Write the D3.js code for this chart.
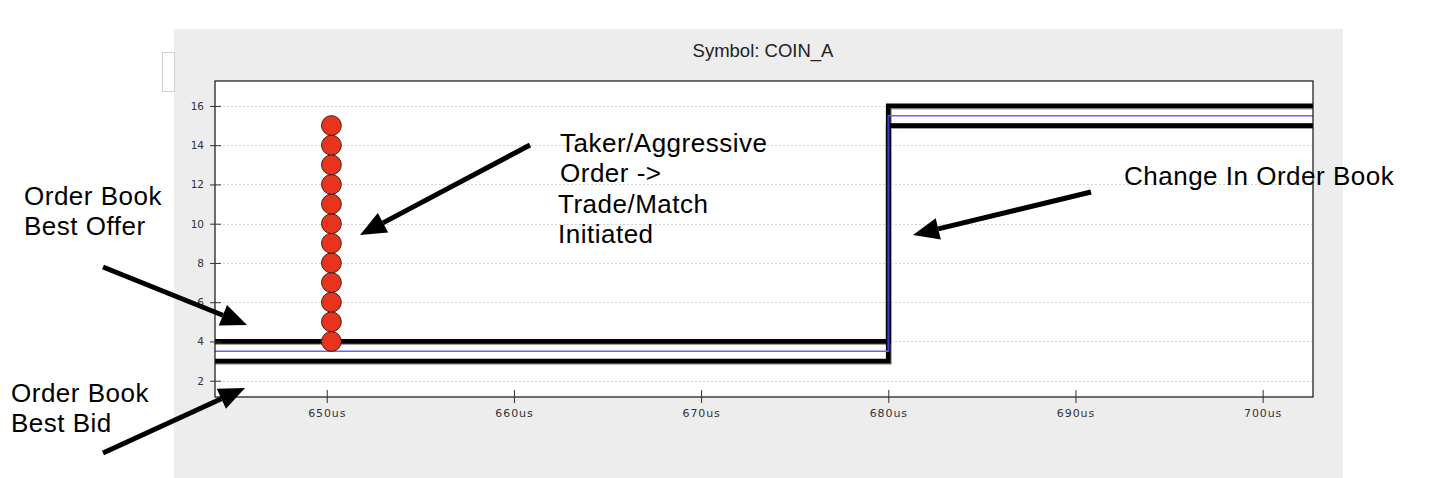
<!DOCTYPE html>
<html>
<head>
<meta charset="utf-8">
<script src="https://cdn.jsdelivr.net/npm/d3@7"></script>
<style>
  html, body { margin: 0; padding: 0; background: #ffffff; }
  svg { display: block; }
</style>
</head>
<body>
<svg id="chart" width="1432" height="478"></svg>
<script>
// ---- data ----
const chartTitle = "Symbol: COIN_A";
const bookTimes = [640, 680, 710];          // microseconds
const bestOffer = [4, 16, 16];
const bestBid = [3, 15, 15];
const midPrice = [3.5, 15.5, 15.5];
const tradeTime = 650.25;
const tradePrices = [4, 5, 6, 7, 8, 9, 10, 11, 12, 13, 14, 15];
const xTicks = [650, 660, 670, 680, 690, 700];
const yTicks = [2, 4, 6, 8, 10, 12, 14, 16];
const xDomain = [644.03, 702.69];
const yDomain = [1.17, 17.27];

const annotations = [
  { lines: ["Order Book", "Best Offer"], x: 24, y: 205, from: [103, 267], to: [247, 325] },
  { lines: ["Order Book", "Best Bid"], x: 11, y: 402, from: [103, 453], to: [245, 388] },
  { lines: ["Taker/Aggressive", "Order ->"], x: 560, y: 152, from: [530, 145], to: [360, 235] },
  { lines: ["Trade/Match", "Initiated"], x: 558, y: 213 },
  { lines: ["Change In Order Book"], x: 1124, y: 185, from: [1091, 192], to: [913, 235] }
];

// ---- layout ----
const svg = d3.select("#chart");
const plot = { left: 215, top: 81, right: 1313, bottom: 397 };

svg.append("rect").attr("x", 174).attr("y", 29).attr("width", 1169).attr("height", 449)
  .attr("fill", "#ededed");
svg.append("rect").attr("x", 162.5).attr("y", 52.5).attr("width", 12).attr("height", 39)
  .attr("fill", "#ffffff").attr("stroke", "#d0d0d0").attr("stroke-width", 1);

svg.append("text").attr("x", 763).attr("y", 57).attr("text-anchor", "middle")
  .attr("font-family", "Liberation Sans, Arial, sans-serif").attr("font-size", 18.5)
  .attr("fill", "#222").text(chartTitle);

const x = d3.scaleLinear().domain(xDomain).range([plot.left, plot.right]);
const y = d3.scaleLinear().domain(yDomain).range([plot.bottom, plot.top]);

svg.append("rect").attr("x", plot.left).attr("y", plot.top)
  .attr("width", plot.right - plot.left).attr("height", plot.bottom - plot.top)
  .attr("fill", "#ffffff");

svg.append("defs").append("clipPath").attr("id", "clip").append("rect")
  .attr("x", plot.left).attr("y", plot.top)
  .attr("width", plot.right - plot.left).attr("height", plot.bottom - plot.top);

// grid
svg.append("g").selectAll("line").data(yTicks).join("line")
  .attr("x1", plot.left).attr("x2", plot.right)
  .attr("y1", d => Math.round(y(d)) + 0.5).attr("y2", d => Math.round(y(d)) + 0.5)
  .attr("stroke", "#d2d2d2").attr("stroke-dasharray", "2,2").attr("stroke-width", 1);

// series
const g = svg.append("g").attr("clip-path", "url(#clip)");
const line = d3.line().x(d => x(d[0])).y(d => y(d[1])).curve(d3.curveStepAfter);
const offerPts = bookTimes.map((t, i) => [t, bestOffer[i]]);
const bidPts = bookTimes.map((t, i) => [t, bestBid[i]]);
const midPts = bookTimes.map((t, i) => [t, midPrice[i]]);

[offerPts, bidPts].forEach(pts => {
  g.append("path").attr("d", line(pts)).attr("fill", "none")
    .attr("stroke", "#a0a0a0").attr("stroke-width", 5.5).attr("transform", "translate(0.8,0.8)");
});
[offerPts, bidPts].forEach(pts => {
  g.append("path").attr("d", line(pts)).attr("fill", "none")
    .attr("stroke", "#000").attr("stroke-width", 4.8);
});
g.append("path").attr("d", line(midPts)).attr("fill", "none")
  .attr("stroke", "#6464ff").attr("stroke-width", 1.4);
g.append("line").attr("x1", x(bookTimes[1]) + 1).attr("x2", x(bookTimes[1]) + 1)
  .attr("y1", y(midPrice[0])).attr("y2", y(midPrice[1]))
  .attr("stroke", "#1010b0").attr("stroke-width", 1.5);

g.selectAll("circle.trade").data(tradePrices).join("circle")
  .attr("class", "trade")
  .attr("cx", x(tradeTime)).attr("cy", d => y(d)).attr("r", 9.9)
  .attr("fill", "#e8341c").attr("stroke", "#4a1a10").attr("stroke-width", 1);

// frame
svg.append("rect").attr("x", plot.left).attr("y", plot.top)
  .attr("width", plot.right - plot.left).attr("height", plot.bottom - plot.top)
  .attr("fill", "none").attr("stroke", "#111").attr("stroke-width", 1.2);

// axes
const xAxis = d3.axisBottom(x).tickValues(xTicks).tickFormat(d => d + "us")
  .tickSizeInner(6).tickSizeOuter(0).tickPadding(8);
const xg = svg.append("g").attr("transform", `translate(0,${plot.bottom})`).call(xAxis);
xg.select(".domain").remove();
xg.selectAll(".tick line").attr("y1", -7).attr("y2", 6).attr("stroke", "#333");
xg.selectAll(".tick text").attr("font-family", "DejaVu Sans, sans-serif").attr("font-size", 11)
  .attr("letter-spacing", "0.9").attr("fill", "#333").attr("y", 12);

const yAxis = d3.axisLeft(y).tickValues(yTicks).tickSizeInner(5).tickSizeOuter(0).tickPadding(7);
const yg = svg.append("g").attr("transform", `translate(${plot.left},0)`).call(yAxis);
yg.select(".domain").remove();
yg.selectAll(".tick line").attr("x1", -5).attr("x2", 6).attr("stroke", "#333");
yg.selectAll(".tick text").attr("font-family", "DejaVu Sans, sans-serif").attr("font-size", 10.5)
  .attr("fill", "#333").attr("x", -11);

// annotations
const ann = svg.append("g");
annotations.forEach(a => {
  const t = ann.append("text").attr("x", a.x).attr("y", a.y)
    .attr("font-family", "Liberation Sans, Arial, sans-serif").attr("font-size", 26)
    .attr("letter-spacing", "0.5").attr("fill", "#000");
  a.lines.forEach((l, i) => t.append("tspan").attr("x", a.x).attr("dy", i === 0 ? 0 : 29.5).text(l));
  if (a.from) {
    const [x1, y1] = a.from, [x2, y2] = a.to;
    const ang = Math.atan2(y2 - y1, x2 - x1);
    const L = 26, W = 11;
    const bx = x2 - L * Math.cos(ang), by = y2 - L * Math.sin(ang);
    ann.append("line").attr("x1", x1).attr("y1", y1).attr("x2", bx).attr("y2", by)
      .attr("stroke", "#000").attr("stroke-width", 5);
    const px = -Math.sin(ang), py = Math.cos(ang);
    ann.append("polygon").attr("points", [
      [x2, y2], [bx + W * px, by + W * py], [bx - W * px, by - W * py]
    ].map(p => p.join(",")).join(" ")).attr("fill", "#000");
  }
});
</script>
</body>
</html>
